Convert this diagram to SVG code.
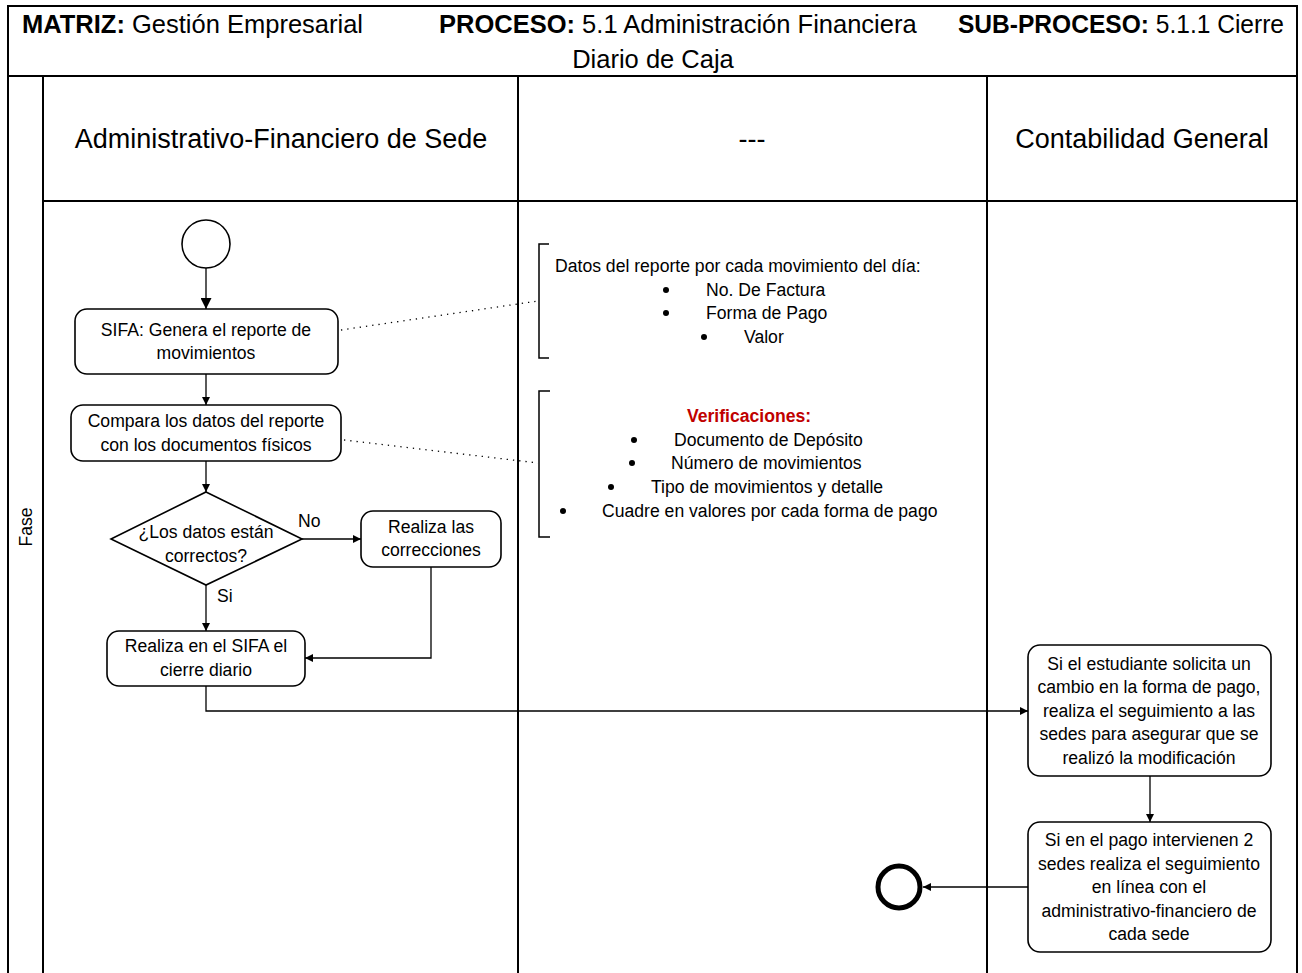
<svg xmlns="http://www.w3.org/2000/svg" width="1302" height="973" viewBox="0 0 1302 973">
  <style>
    text { font-family: "Liberation Sans", Arial, sans-serif; fill: #000; }
    .hdr { font-size: 25.5px; }
    .b { font-weight: bold; }
    .lane { font-size: 27px; text-anchor: middle; }
    .t { font-size: 17.6px; text-anchor: middle; }
    .ts { font-size: 17.6px; }
    .frame { fill: none; stroke: #000; stroke-width: 2; }
    .box { fill: #fff; stroke: #000; stroke-width: 1.6; }
    .flow { fill: none; stroke: #000; stroke-width: 1.3; }
    .dot { fill: none; stroke: #000; stroke-width: 1.3; stroke-dasharray: 1.3 5; }
    .bracket { fill: none; stroke: #000; stroke-width: 1.5; }
  </style>
  <defs>
    <marker id="arrow" viewBox="0 0 10 10" refX="10" refY="5" markerWidth="8" markerHeight="8" markerUnits="userSpaceOnUse" orient="auto">
      <path d="M0,0 L10,5 L0,10 z" fill="#000"/>
    </marker>
    <marker id="arrowBig" viewBox="0 0 10 10" refX="10" refY="5" markerWidth="11" markerHeight="11" markerUnits="userSpaceOnUse" orient="auto">
      <path d="M0,0 L10,5 L0,10 z" fill="#000"/>
    </marker>
  </defs>

  <rect width="1302" height="973" fill="#fff"/>

  <!-- Frame: title row, lanes -->
  <g id="frame">
    <path class="frame" d="M8,973 V6 H1297 V973"/>
    <line class="frame" x1="8" y1="76" x2="1297" y2="76"/>
    <line class="frame" x1="43" y1="76" x2="43" y2="973"/>
    <line class="frame" x1="518" y1="76" x2="518" y2="973"/>
    <line class="frame" x1="987" y1="76" x2="987" y2="973"/>
    <line class="frame" x1="43" y1="201" x2="1297" y2="201"/>
  </g>

  <g id="title">
    <text class="hdr" x="22" y="33"><tspan class="b">MATRIZ:</tspan> Gestión Empresarial</text>
    <text class="hdr" x="439" y="33"><tspan class="b">PROCESO:</tspan> 5.1 Administración Financiera</text>
    <text class="hdr" x="958" y="33" textLength="326" lengthAdjust="spacingAndGlyphs"><tspan class="b">SUB-PROCESO:</tspan> 5.1.1 Cierre</text>
    <text class="hdr" x="653" y="68" text-anchor="middle">Diario de Caja</text>
  </g>

  <g id="lanes">
    <text class="lane" x="281" y="148">Administrativo-Financiero de Sede</text>
    <text class="lane" x="752" y="148">---</text>
    <text class="lane" x="1142" y="148">Contabilidad General</text>
    <text class="ts" x="32" y="527" text-anchor="middle" transform="rotate(-90 32 527)">Fase</text>
  </g>

  <!-- Connectors -->
  <g id="connectors">
    <line class="flow" x1="206" y1="268" x2="206" y2="309" marker-end="url(#arrowBig)"/>
    <line class="flow" x1="206" y1="374" x2="206" y2="405" marker-end="url(#arrow)"/>
    <line class="flow" x1="206" y1="461" x2="206" y2="492" marker-end="url(#arrow)"/>
    <line class="flow" x1="302" y1="539" x2="361" y2="539" marker-end="url(#arrow)"/>
    <line class="flow" x1="206" y1="585" x2="206" y2="631" marker-end="url(#arrow)"/>
    <polyline class="flow" points="431,567 431,658 305,658" marker-end="url(#arrow)"/>
    <polyline class="flow" points="206,686 206,711 1028,711" marker-end="url(#arrow)"/>
    <line class="flow" x1="1150" y1="776" x2="1150" y2="822" marker-end="url(#arrow)"/>
    <line class="flow" x1="1028" y1="887" x2="923" y2="887" marker-end="url(#arrow)"/>
    <line class="dot" x1="341" y1="330" x2="538" y2="301"/>
    <line class="dot" x1="344" y1="440" x2="538" y2="463"/>
    <text class="ts" x="298" y="527">No</text>
    <text class="ts" x="217" y="602">Si</text>
  </g>

  <g id="start">
    <circle cx="206" cy="244" r="24" fill="#fff" stroke="#000" stroke-width="1.6"/>
  </g>

  <g id="genera-reporte">
    <rect class="box" x="75" y="309" width="263" height="65" rx="12"/>
    <text class="t" x="206" y="336">SIFA: Genera el reporte de</text>
    <text class="t" x="206" y="359">movimientos</text>
  </g>

  <g id="compara-datos">
    <rect class="box" x="71" y="405" width="270" height="56" rx="12"/>
    <text class="t" x="206" y="427">Compara los datos del reporte</text>
    <text class="t" x="206" y="451">con los documentos físicos</text>
  </g>

  <g id="datos-correctos">
    <polygon class="box" points="206,492 302,539 206,585 111,539"/>
    <text class="t" x="206" y="538">¿Los datos están</text>
    <text class="t" x="206" y="562">correctos?</text>
  </g>

  <g id="correcciones">
    <rect class="box" x="361" y="511" width="140" height="56" rx="12"/>
    <text class="t" x="431" y="533">Realiza las</text>
    <text class="t" x="431" y="556">correcciones</text>
  </g>

  <g id="cierre-diario">
    <rect class="box" x="107" y="631" width="198" height="55" rx="12"/>
    <text class="t" x="206" y="652">Realiza en el SIFA el</text>
    <text class="t" x="206" y="676">cierre diario</text>
  </g>

  <g id="seguimiento-cambio">
    <rect class="box" x="1028" y="645" width="243" height="131" rx="12"/>
    <text class="t" x="1149" y="670">Si el estudiante solicita un</text>
    <text class="t" x="1149" y="693">cambio en la forma de pago,</text>
    <text class="t" x="1149" y="717">realiza el seguimiento a las</text>
    <text class="t" x="1149" y="740">sedes para asegurar que se</text>
    <text class="t" x="1149" y="764">realizó la modificación</text>
  </g>

  <g id="seguimiento-sedes">
    <rect class="box" x="1028" y="822" width="243" height="130" rx="12"/>
    <text class="t" x="1149" y="846">Si en el pago intervienen 2</text>
    <text class="t" x="1149" y="870">sedes realiza el seguimiento</text>
    <text class="t" x="1149" y="893">en línea con el</text>
    <text class="t" x="1149" y="917">administrativo-financiero de</text>
    <text class="t" x="1149" y="940">cada sede</text>
  </g>

  <g id="end">
    <circle cx="899" cy="887" r="21" fill="#fff" stroke="#000" stroke-width="5"/>
  </g>

  <!-- Annotations -->
  <g id="nota-datos">
    <polyline class="bracket" points="549,244 539,244 539,358 549,358"/>
    <text class="ts" x="555" y="272">Datos del reporte por cada movimiento del día:</text>
    <circle cx="666" cy="290" r="3"/>
    <text class="ts" x="706" y="296">No. De Factura</text>
    <circle cx="666" cy="313" r="3"/>
    <text class="ts" x="706" y="319">Forma de Pago</text>
    <circle cx="704" cy="337" r="3"/>
    <text class="ts" x="744" y="343">Valor</text>
  </g>

  <g id="nota-verificaciones">
    <polyline class="bracket" points="550,391 539,391 539,537 550,537"/>
    <text class="ts b" x="749" y="422" text-anchor="middle" style="fill:#c00000">Verificaciones:</text>
    <circle cx="634" cy="440" r="3"/>
    <text class="ts" x="674" y="446">Documento de Depósito</text>
    <circle cx="632" cy="463" r="3"/>
    <text class="ts" x="671" y="469">Número de movimientos</text>
    <circle cx="611" cy="487" r="3"/>
    <text class="ts" x="651" y="493">Tipo de movimientos y detalle</text>
    <circle cx="563" cy="511" r="3"/>
    <text class="ts" x="602" y="517">Cuadre en valores por cada forma de pago</text>
  </g>
</svg>
